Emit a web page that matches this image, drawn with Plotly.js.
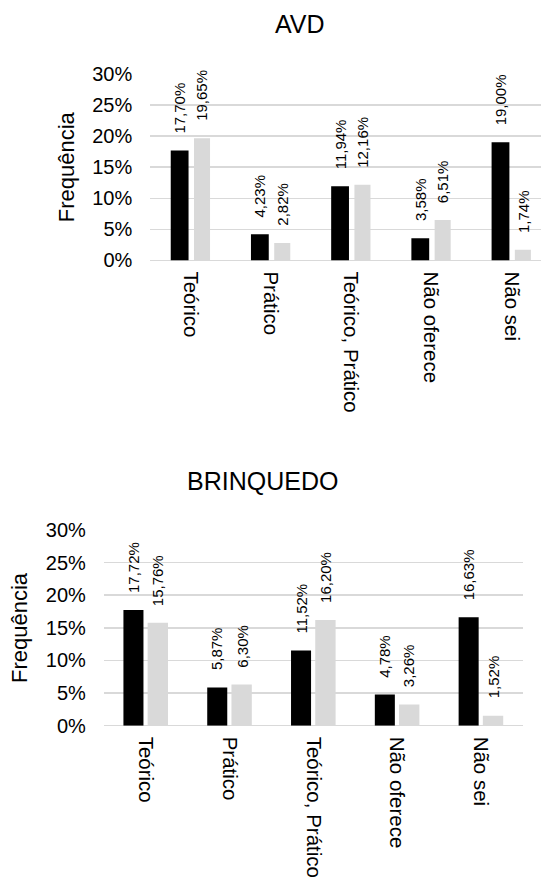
<!DOCTYPE html>
<html>
<head>
<meta charset="utf-8">
<script src="https://cdn.plot.ly/plotly-3.0.1.min.js"></script>
<style>
  html, body { margin: 0; padding: 0; background: #fff; }
  #chart { width: 541px; height: 888px; }
</style>
</head>
<body>
<div id="chart"></div>
<script>
// Categories shared by both panels
const categorias = ['Teórico', 'Prático', 'Teórico, Prático', 'Não oferece', 'Não sei'];

// AVD panel (percent)
const avdSerie1 = [17.70, 4.23, 11.94, 3.58, 19.00];
const avdSerie2 = [19.65, 2.82, 12.16, 6.51, 1.74];

// BRINQUEDO panel (percent)
const brqSerie1 = [17.72, 5.87, 11.52, 4.78, 16.63];
const brqSerie2 = [15.76, 6.30, 16.20, 3.26, 1.52];

// Y axis ticks
const yTicks = [0, 5, 10, 15, 20, 25, 30];

const FONT = 'Liberation Sans, Arial, sans-serif';
const PRETO = '#000000';
const CINZA = '#d9d9d9';
const GRADE = '#d9d9d9';

const fmt = v => v.toFixed(2).replace('.', ',') + '%';

// bar geometry per panel, in category units
const geoTop = { o1: -0.245, w1: 0.222, o2: 0.045, w2: 0.2 };
const geoBot = { o1: -0.266, w1: 0.239, o2: 0.023, w2: 0.243 };

function barTrace(vals, color, geo, which, xa, ya) {
  return {
    type: 'bar',
    x: categorias,
    y: vals,
    xaxis: xa, yaxis: ya,
    marker: { color: color, line: { width: 0 } },
    offset: which === 1 ? geo.o1 : geo.o2,
    width: which === 1 ? geo.w1 : geo.w2,
    hoverinfo: 'skip',
    showlegend: false
  };
}

const data = [
  barTrace(avdSerie1, PRETO, geoTop, 1, 'x', 'y'),
  barTrace(avdSerie2, CINZA, geoTop, 2, 'x', 'y'),
  barTrace(brqSerie1, PRETO, geoBot, 1, 'x2', 'y2'),
  barTrace(brqSerie2, CINZA, geoBot, 2, 'x2', 'y2')
];

// value labels above each bar
const annotations = [];
function addLabels(vals, geo, which, xref, yref) {
  const off = which === 1 ? geo.o1 + geo.w1 / 2 : geo.o2 + geo.w2 / 2;
  vals.forEach((v, i) => {
    annotations.push({
      x: i + off, y: v, xref: xref, yref: yref,
      text: fmt(v), showarrow: false, textangle: -90,
      xanchor: 'center', yanchor: 'bottom', yshift: 15,
      font: { family: FONT, size: 15, color: '#000' }
    });
  });
}
addLabels(avdSerie1, geoTop, 1, 'x', 'y');
addLabels(avdSerie2, geoTop, 2, 'x', 'y');
addLabels(brqSerie1, geoBot, 1, 'x2', 'y2');
addLabels(brqSerie2, geoBot, 2, 'x2', 'y2');

// panel titles and axis titles
annotations.push(
  { text: 'AVD', xref: 'paper', yref: 'paper', x: 0.5545, y: 0.973,
    xanchor: 'center', yanchor: 'middle', showarrow: false,
    font: { family: FONT, size: 25, color: '#000' } },
  { text: 'BRINQUEDO', xref: 'paper', yref: 'paper', x: 0.486, y: 0.4583,
    xanchor: 'center', yanchor: 'middle', showarrow: false,
    font: { family: FONT, size: 25, color: '#000' } },
  { text: 'Frequência', xref: 'paper', yref: 'paper', x: 0.122, y: 0.8117,
    xanchor: 'center', yanchor: 'middle', showarrow: false, textangle: -90,
    font: { family: FONT, size: 22, color: '#000' } },
  { text: 'Frequência', xref: 'paper', yref: 'paper', x: 0.037, y: 0.2928,
    xanchor: 'center', yanchor: 'middle', showarrow: false, textangle: -90,
    font: { family: FONT, size: 22, color: '#000' } }
);

const xCommon = {
  type: 'category',
  showgrid: false, zeroline: false, showline: false, ticks: '',
  tickangle: 90,
  ticklabelstandoff: 10,
  tickfont: { family: FONT, size: 20.5, color: '#000' },
  fixedrange: true
};
const yCommon = {
  range: [0, 30],
  tickvals: yTicks,
  ticktext: yTicks.map(t => t + '%'),
  showgrid: true, gridcolor: GRADE, gridwidth: 1.5,
  zeroline: true, zerolinecolor: GRADE, zerolinewidth: 1.5,
  showline: false, ticks: '',
  ticklabelstandoff: 17,
  tickfont: { family: FONT, size: 20, color: '#000' },
  fixedrange: true
};

const layout = {
  width: 541, height: 888,
  margin: { l: 0, r: 0, t: 0, b: 0 },
  paper_bgcolor: '#fff', plot_bgcolor: '#fff',
  barmode: 'overlay',
  showlegend: false,
  xaxis: Object.assign({}, xCommon, { domain: [0.2778, 1], range: [-0.5, 4.371], anchor: 'y' }),
  yaxis: Object.assign({}, yCommon, { domain: [0.7067, 0.9167], anchor: 'x' }),
  xaxis2: Object.assign({}, xCommon, { domain: [0.1919, 0.9664], range: [-0.5, 4.5], anchor: 'y2' }),
  yaxis2: Object.assign({}, yCommon, { domain: [0.1828, 0.4032], anchor: 'x2' }),
  annotations: annotations
};

Plotly.newPlot('chart', data, layout, { displayModeBar: false, staticPlot: true });
</script>
</body>
</html>
